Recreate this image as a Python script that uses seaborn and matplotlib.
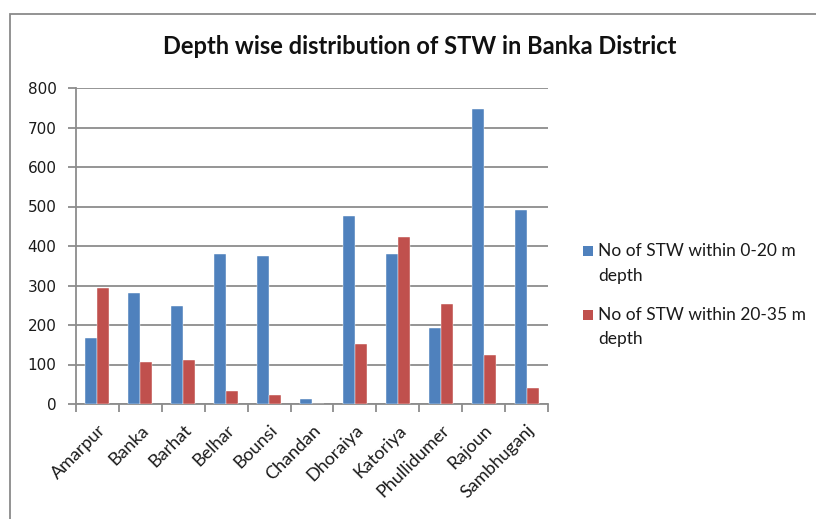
import matplotlib
matplotlib.use("Agg")
import matplotlib.pyplot as plt
from matplotlib.patches import Rectangle
from matplotlib.ticker import FixedLocator
import numpy as np
import pandas as pd
import seaborn as sns

blocks = ["Amarpur", "Banka", "Barhat", "Belhar", "Bounsi", "Chandan",
          "Dhoraiya", "Katoriya", "Phullidumer", "Rajoun", "Sambhuganj"]
stw_0_20 = [168, 281, 249, 379, 375, 13, 476, 379, 192, 748, 492]
stw_20_35 = [293, 106, 111, 33, 22, 0, 151, 424, 253, 123, 41]
series_names = ["No of STW within 0-20 m depth", "No of STW within 20-35 m depth"]
series_colors = ["#4F81BD", "#C0504D"]
y_ticks = [0, 100, 200, 300, 400, 500, 600, 700, 800]

df = pd.DataFrame({
    "Block": blocks * 2,
    "Count": stw_0_20 + stw_20_35,
    "Series": [series_names[0]] * len(blocks) + [series_names[1]] * len(blocks),
})

sns.set_style("white")
plt.rcParams["font.family"] = ["Lato", "DejaVu Sans"]

W, H = 816, 519
fig = plt.figure(figsize=(W / 100, H / 100), dpi=100)


def fx(px):
    return px / W


def fy(py):
    # pixel row measured from the top edge
    return 1 - py / H


# chart-area border
fig.patches.append(Rectangle((fx(10), -0.01), 1.0, fy(14) + 0.01,
                             transform=fig.transFigure, fill=False,
                             edgecolor="#8a8a8a", linewidth=1.3, zorder=0))

ax = fig.add_axes([fx(76), fy(404), 472 / W, 316 / H])
sns.barplot(data=df, x="Block", y="Count", hue="Series",
            palette=series_colors, width=0.56, gap=0,
            saturation=1, ax=ax, zorder=3, legend=False)
for p in ax.patches:
    p.set_edgecolor("white")
    p.set_linewidth(0.3)

ax.set_ylim(0, 800)
ax.set_xlim(-0.5, len(blocks) - 0.5)
ax.yaxis.set_major_locator(FixedLocator(y_ticks))
ax.grid(axis="y", color="#8c8c8c", linewidth=1.3, zorder=0)
ax.set_axisbelow(True)

for side in ["top", "right"]:
    ax.spines[side].set_visible(False)
for side in ["left", "bottom"]:
    ax.spines[side].set_color("#8c8c8c")
    ax.spines[side].set_linewidth(1.3)

ax.tick_params(axis="y", which="major", length=6, width=1.3, color="#8c8c8c",
               labelsize=11, labelcolor="#1a1a1a", pad=8, left=True)
ax.set_yticklabels([str(v) for v in y_ticks], family="DejaVu Sans")
ax.tick_params(axis="x", which="major", length=0, labelsize=13,
               labelcolor="#1a1a1a", pad=13)
ax.xaxis.set_minor_locator(FixedLocator(np.arange(-0.5, len(blocks), 1.0)))
ax.tick_params(axis="x", which="minor", length=6, width=1.3, color="#8c8c8c",
               bottom=True)
plt.setp(ax.get_xticklabels(), rotation=45, ha="right", rotation_mode="anchor")
ax.set_xlabel("")
ax.set_ylabel("")

# legend: colour key beside the first line of each two-line label
legend_rows = [(251, 276), (315, 339)]
for name, color, (row1, row2) in zip(series_names, series_colors, legend_rows):
    first, second = name.rsplit(" ", 1)
    fig.patches.append(Rectangle((fx(583), fy(row1 + 5)), 10 / W, 10 / H,
                                 transform=fig.transFigure, facecolor=color,
                                 edgecolor="none"))
    fig.text(fx(598), fy(row1), first, ha="left", va="center",
             fontsize=12.5, color="#1a1a1a")
    fig.text(fx(598), fy(row2), second, ha="left", va="center",
             fontsize=12.5, color="#1a1a1a")

fig.text(fx(420), fy(46), "Depth wise distribution of STW in Banka District",
         ha="center", va="center", fontsize=17, fontweight="bold", color="#111111")

fig.savefig("out.png", dpi=100)
